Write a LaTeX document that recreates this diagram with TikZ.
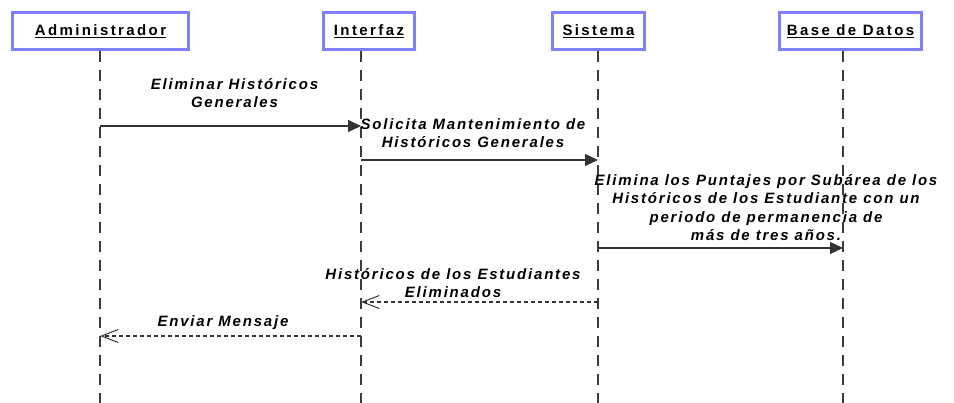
\documentclass[tikz,border=0pt]{standalone}
\usepackage{fontspec}
\setmainfont{Liberation Sans}
\newfontfamily\seqfont[LetterSpace=12]{Liberation Sans}
\newfontfamily\actfont[LetterSpace=16]{Liberation Sans}
\usepackage{xcolor}
\usetikzlibrary{arrows.meta}
\definecolor{boxblue}{RGB}{128,128,255}
\definecolor{lifegray}{RGB}{60,60,60}

\begin{document}
\begin{tikzpicture}[x=1pt,y=-1pt,
    actor/.style={draw=boxblue, line width=2.6pt, fill=white, inner sep=0pt, minimum height=37pt,
        font=\actfont\fontsize{15}{16}\selectfont\bfseries},
    life/.style={lifegray, line width=1.2pt, dash pattern=on 11pt off 8pt},
    call/.style={black!80, line width=1.2pt, -{Triangle[length=13pt,width=12pt]}},
    reply/.style={black!80, line width=1.2pt, dash pattern=on 4pt off 3pt,
        -{Straight Barb[length=17pt,width=13pt,line width=1pt]}},
    txt/.style={align=center, anchor=base, inner sep=0pt,
        font=\seqfont\fontsize{15}{18.5}\selectfont\bfseries\itshape}]
\useasboundingbox (0,0) rectangle (954,403);
% Lifelines
\coordinate (admL) at (100,51);
\coordinate (intL) at (361,51);
\coordinate (sisL) at (598,51);
\coordinate (bdL) at (843,51);
\coordinate (bottom) at (0,403);
\foreach \l in {admL,intL,sisL,bdL} {
    \draw[life] (\l) -- (\l |- bottom);
}
% Actors
\node[actor, minimum width=176pt] (adm) at (100.5,31) {\underline{Administrador}};
\node[actor, minimum width=91pt] (int) at (369,31) {\underline{Interfaz}};
\node[actor, minimum width=92pt] (sis) at (598.5,31) {\underline{Sistema}};
\node[actor, minimum width=142pt] (bd) at (850.5,31) {\underline{Base de Datos}};
% Messages
\coordinate (m1) at (0,126);
\coordinate (m2) at (0,160);
\coordinate (m3) at (0,248);
\coordinate (m4) at (0,302);
\coordinate (m5) at (0,336);
\draw[call] (admL |- m1) -- (intL |- m1);
\node[txt] (t1) at (234.5,108) {Eliminar Históricos\\Generales};
\draw[call] (intL |- m2) -- (sisL |- m2);
\node[txt] (t2) at (473,148) {Solicita Mantenimiento de\\Históricos Generales};
\draw[call] (sisL |- m3) -- (bdL |- m3);
\node[txt] (t3) at (766,241) {Elimina los Puntajes por Subárea de los\\Históricos de los Estudiante con un\\periodo de permanencia de\\más de tres años.};
\draw[reply] (sisL |- m4) -- (intL |- m4);
\node[txt] (t4) at (453,298) {Históricos de los Estudiantes\\Eliminados};
\draw[reply] (intL |- m5) -- (admL |- m5);
\node[txt] (t5) at (223,327) {Enviar Mensaje};
\end{tikzpicture}
\end{document}
